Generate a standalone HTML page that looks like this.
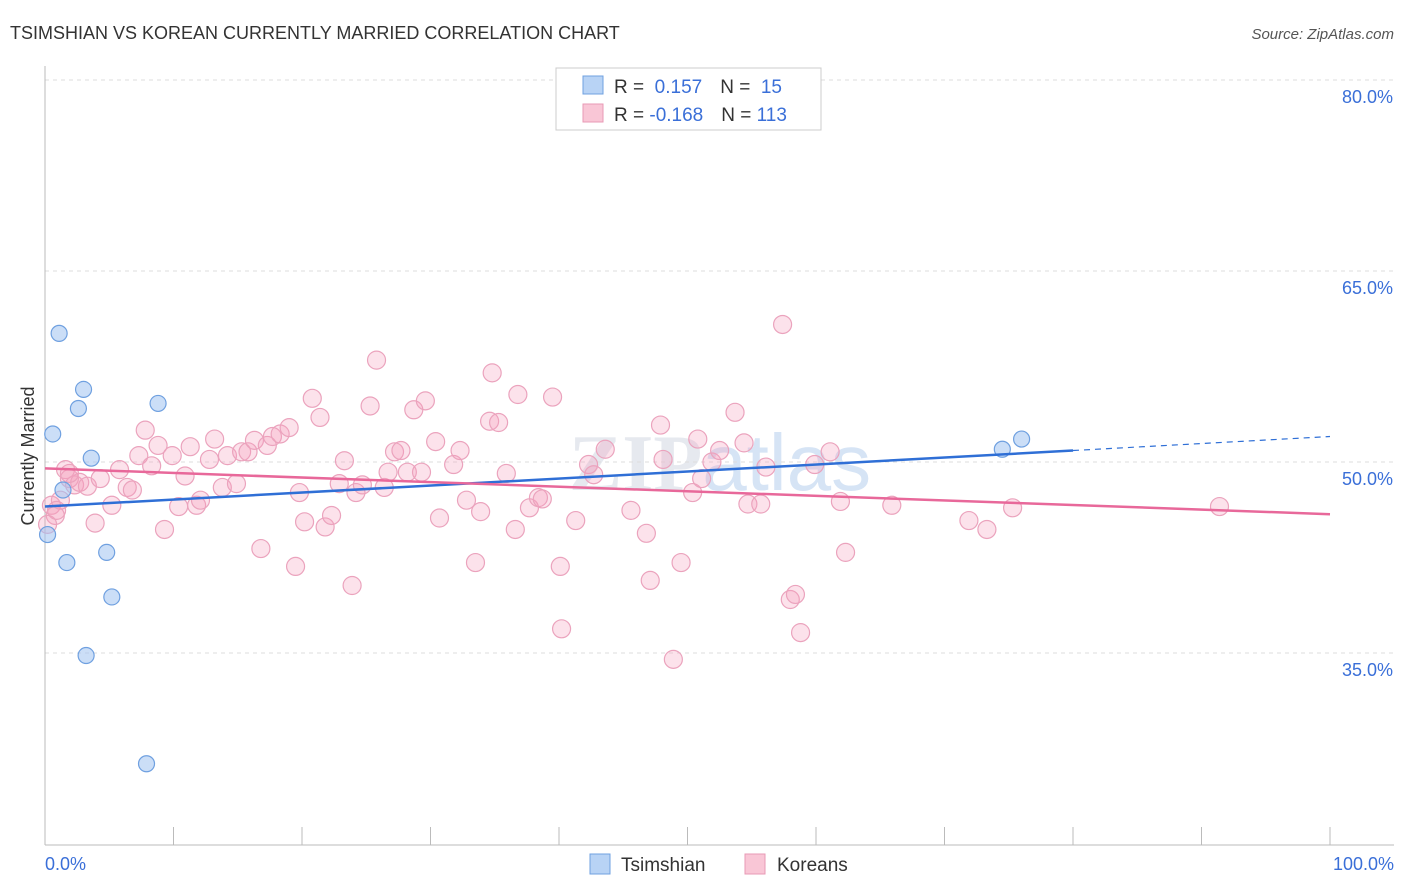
<!DOCTYPE html>
<html><head><meta charset="utf-8"><style>
body{margin:0;background:#fff;font-family:"Liberation Sans",sans-serif}
svg{display:block}
</style></head><body>
<svg id="chart" width="1406" height="892" viewBox="0 0 1406 892">
<text x="10" y="39" font-size="18" fill="#333">TSIMSHIAN VS KOREAN CURRENTLY MARRIED CORRELATION CHART</text>
<text x="1394" y="39" font-size="15" fill="#555" font-style="italic" text-anchor="end">Source: ZipAtlas.com</text>
<text x="720" y="490" font-size="80" fill="#e6e9ef" text-anchor="middle" font-weight="bold" font-family="Liberation Serif,serif">ZIP<tspan fill="#d6e4f5" font-family="Liberation Sans,sans-serif" font-weight="normal">atlas</tspan></text>
<g id="grid"></g><g id="axes"></g><g id="pts"></g><g id="trends"></g>
<text transform="translate(34,456) rotate(-90)" font-size="18" fill="#333" text-anchor="middle">Currently Married</text>
<g>
<rect x="556" y="68" width="265" height="62" fill="#fff" stroke="#ccc"/>
<rect x="583" y="76" width="20" height="18" fill="#b8d3f5" stroke="#6fa0e0"/>
<rect x="583" y="104" width="20" height="18" fill="#f9c6d6" stroke="#e89ab5"/>
<text x="614" y="93" font-size="19" fill="#333">R = <tspan fill="#3a6fd8">&#160;0.157</tspan><tspan dx="18">N = </tspan><tspan fill="#3a6fd8">&#160;15</tspan></text>
<text x="614" y="121" font-size="19" fill="#333">R = <tspan fill="#3a6fd8">-0.168</tspan><tspan dx="18">N = </tspan><tspan fill="#3a6fd8">113</tspan></text>
</g>
<g>
<rect x="590" y="854" width="20" height="20" fill="#b8d3f5" stroke="#6fa0e0"/>
<text x="621" y="871" font-size="19" fill="#333">Tsimshian</text>
<rect x="745" y="854" width="20" height="20" fill="#f9c6d6" stroke="#e89ab5"/>
<text x="777" y="871" font-size="19" fill="#333">Koreans</text>
</g>
</svg>
<script>
const yTicks=[80,65,50,35];
const yTickLabels=["80.0%","65.0%","50.0%","35.0%"];
const xTicks=[0,10,20,30,40,50,60,70,80,90,100];
const blueX=[0.2,0.6,1.1,1.7,2.6,3.0,3.2,3.6,4.8,5.2,7.9,8.8,74.5,76.0,1.4];
const blueY=[44.3,52.2,60.1,42.1,54.2,55.7,34.8,50.3,42.9,39.4,26.3,54.6,51.0,51.8,47.8];
const pinkX=[0.5,0.8,1.2,1.6,1.9,2.3,2.7,3.3,3.9,4.3,5.2,5.8,6.4,6.8,7.3,7.8,8.3,8.8,9.3,9.9,10.4,10.9,11.3,11.8,12.1,12.8,13.2,13.8,14.2,14.9,15.3,15.8,16.3,16.8,17.3,17.7,18.3,19.0,19.5,19.8,20.2,20.8,21.4,21.8,22.3,22.9,23.3,23.9,24.2,24.7,25.3,25.8,26.4,26.7,27.2,27.7,28.2,28.7,29.3,29.6,30.4,30.7,31.8,32.3,32.8,33.5,33.9,34.6,34.8,35.3,35.9,36.6,36.8,37.7,38.4,38.7,39.5,40.1,40.2,41.3,42.3,42.7,43.6,45.6,46.8,47.1,47.9,48.1,48.9,49.5,50.4,50.8,51.1,51.9,52.5,53.7,54.4,54.7,55.7,56.1,57.4,58.0,58.4,58.8,59.9,61.1,61.9,62.3,65.9,71.9,73.3,75.3,91.4,0.2,0.9,1.9];
const pinkY=[46.6,45.8,47.0,49.4,48.7,48.2,48.4,48.1,45.2,48.7,46.6,49.4,48.0,47.8,50.5,52.5,49.7,51.3,44.7,50.5,46.5,48.9,51.2,46.6,47.0,50.2,51.8,48.0,50.5,48.3,50.8,50.8,51.7,43.2,51.3,52.0,52.2,52.7,41.8,47.6,45.3,55.0,53.5,44.9,45.8,48.3,50.1,40.3,47.6,48.2,54.4,58.0,48.0,49.2,50.8,50.9,49.2,54.1,49.2,54.8,51.6,45.6,49.8,50.9,47.0,42.1,46.1,53.2,57.0,53.1,49.1,44.7,55.3,46.4,47.2,47.1,55.1,41.8,36.9,45.4,49.8,49.0,51.0,46.2,44.4,40.7,52.9,50.2,34.5,42.1,47.6,51.8,48.7,50.0,50.9,53.9,51.5,46.7,46.7,49.6,60.8,39.2,39.6,36.6,49.8,50.8,46.9,42.9,46.6,45.4,44.7,46.4,46.5,45.1,46.2,49.1];
const blueTrend=[46.5,52.0];
const pinkTrend=[49.5,45.9];
const NS="http://www.w3.org/2000/svg";
const X0=45,X1=1330,Y80=80,PXP=12.733;
const sx=v=>X0+(X1-X0)*v/100;
const sy=v=>Y80+(80-v)*PXP;
function mk(t,a,p){const e=document.createElementNS(NS,t);for(const k in a)e.setAttribute(k,a[k]);document.getElementById(p).appendChild(e);return e;}
yTicks.forEach((t,i)=>{
 const l=mk('line',{x1:X0,x2:1394,y1:sy(t),y2:sy(t),stroke:'#ddd','stroke-dasharray':'4,4'},'grid');
 
 
 const tx=mk('text',{x:1393,y:sy(t)+23,'font-size':18,fill:'#3a6fd8','text-anchor':'end'},'grid');
 tx.textContent=yTickLabels[i];
 
 
});
const ya=mk('line',{x1:X0,x2:X0,y1:66,y2:845,stroke:'#bbb'},'axes');


const xa=mk('line',{x1:X0,x2:1394,y1:845,y2:845,stroke:'#bbb'},'axes');


xTicks.forEach(t=>{
 const l=mk('line',{x1:sx(t),x2:sx(t),y1:827,y2:845,stroke:'#bbb'},'axes');
 
 
});
const xl0=mk('text',{x:45,y:870,'font-size':18,fill:'#3a6fd8'},'axes');xl0.textContent='0.0%';


const xl1=mk('text',{x:1394,y:870,'font-size':18,fill:'#3a6fd8','text-anchor':'end'},'axes');xl1.textContent='100.0%';


pinkX.forEach((x,i)=>{
 const c=mk('circle',{cx:sx(x),cy:sy(pinkY[i]),r:9,fill:'rgba(244,160,190,0.3)',stroke:'#eba3bd','stroke-width':1.2},'pts');
 
 
});
blueX.forEach((x,i)=>{
 const c=mk('circle',{cx:sx(x),cy:sy(blueY[i]),r:8,fill:'rgba(160,195,240,0.55)',stroke:'#6fa0e0','stroke-width':1.2},'pts');
 
 
});
const bAt=x=>blueTrend[0]+(blueTrend[1]-blueTrend[0])*x/100;
const bt=mk('line',{x1:sx(0),y1:sy(bAt(0)),x2:sx(80),y2:sy(bAt(80)),stroke:'#2f6fd6','stroke-width':2.5},'trends');


const bd=mk('line',{x1:sx(80),y1:sy(bAt(80)),x2:sx(100),y2:sy(bAt(100)),stroke:'#2f6fd6','stroke-width':1.2,'stroke-dasharray':'6,5'},'trends');


const pt=mk('line',{x1:sx(0),y1:sy(pinkTrend[0]),x2:sx(100),y2:sy(pinkTrend[1]),stroke:'#e8689a','stroke-width':2.5},'trends');


</script>
</body></html>
